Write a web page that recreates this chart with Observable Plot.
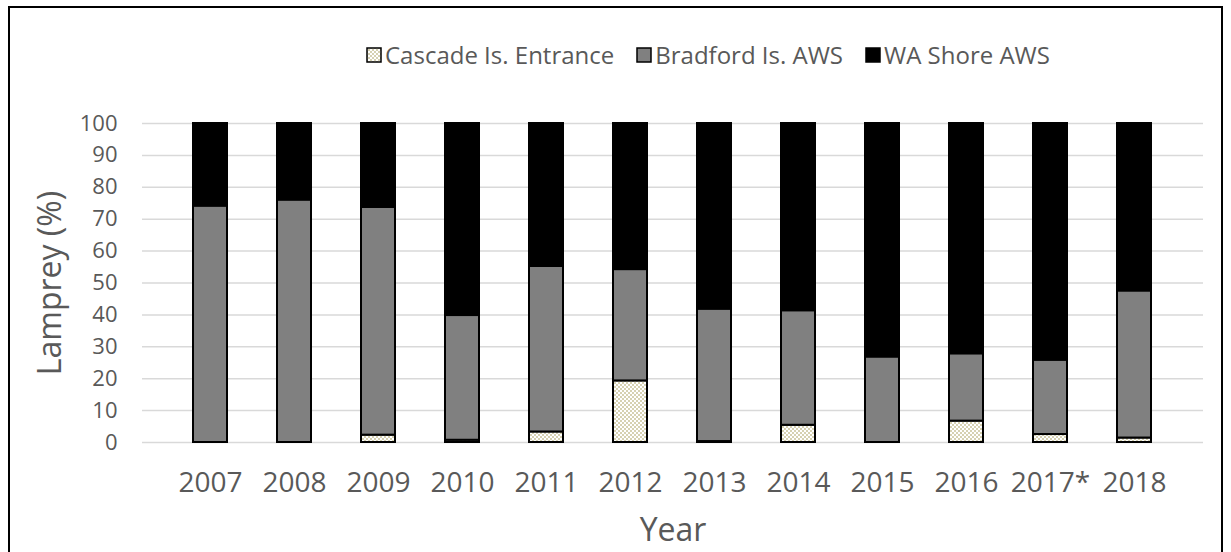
<!DOCTYPE html>
<html>
<head>
<meta charset="utf-8">
<script src="https://cdn.jsdelivr.net/npm/d3@7"></script>
<script src="https://cdn.jsdelivr.net/npm/@observablehq/plot@0.6"></script>
<style>
  html, body { margin: 0; padding: 0; background: #fff; }
  #wrap { position: relative; width: 1231px; height: 552px; overflow: hidden; font-family: "Open Sans", sans-serif; }
  #frame { position: absolute; left: 8px; top: 6px; width: 1215px; height: 600px; border: 2px solid #000; box-sizing: border-box; pointer-events: none; }
  #legend { position: relative; height: 100px; }
  #legend .items { position: absolute; left: 366px; top: 38px; display: flex; align-items: center; gap: 22px; font-size: 24px; color: #595959; white-space: nowrap; }
  #legend .item { display: flex; align-items: center; gap: 3px; }
  #legend svg { display: block; }
  #chart svg { display: block; }
</style>
</head>
<body>
<div id="wrap">
  <div id="legend"><div class="items"></div></div>
  <div id="chart"></div>
  <div id="frame"></div>
</div>
<script>
// Share of lamprey (%) by passage route, per year
const years = ["2007", "2008", "2009", "2010", "2011", "2012", "2013", "2014", "2015", "2016", "2017*", "2018"];
const seriesNames = ["Cascade Is. Entrance", "Bradford Is. AWS", "WA Shore AWS"];
const cascade  = [0, 0, 2.3, 0.7, 3.3, 19.3, 0.3, 5.4, 0, 6.7, 2.5, 1.4];
const bradford = [74.1, 76.0, 71.4, 39.1, 51.9, 34.9, 41.5, 35.9, 26.8, 21.1, 23.3, 46.1];
const waShore  = [25.9, 24.0, 26.3, 60.2, 44.8, 45.8, 58.2, 58.7, 73.2, 72.2, 74.2, 52.5];
const yTicks = [0, 10, 20, 30, 40, 50, 60, 70, 80, 90, 100];

const seriesValues = [cascade, bradford, waShore];
const rows = [];
seriesNames.forEach((name, s) => {
  years.forEach((year, i) => {
    if (seriesValues[s][i] > 0) rows.push({year, series: name, value: seriesValues[s][i]});
  });
});

const textColor = "#595959";
const fills = ["url(#cascadeDots)", "#808080", "#000000"];

const plot = Plot.plot({
  width: 1231,
  height: 452,
  marginTop: 23,
  marginBottom: 110,
  marginLeft: 142,
  marginRight: 28,
  style: {fontFamily: "'Open Sans', sans-serif", color: textColor, background: "#fff"},
  x: {domain: years, padding: 0.59, label: null},
  y: {domain: [0, 100], label: null},
  color: {domain: seriesNames, range: fills},
  marks: [
    Plot.gridY(yTicks, {stroke: "#d9d9d9", strokeOpacity: 1, strokeWidth: 1.5}),
    Plot.axisY(yTicks, {tickSize: 0, tickPadding: 25, fontSize: 22, label: null, fill: textColor}),
    Plot.axisX({tickSize: 0, tickPadding: 30, fontSize: 28, label: null, fill: textColor}),
    Plot.barY(rows, {
      x: "year", y: "value", fill: "series", z: "series",
      order: seriesNames,
      stroke: "#000", strokeWidth: 2
    }),
    Plot.text(["Lamprey (%)"], {frameAnchor: "left", dx: -92, rotate: -90, fontSize: 32, fill: textColor, textAnchor: "middle"}),
    Plot.text(["Year"], {frameAnchor: "bottom", dy: 88, fontSize: 32, fill: textColor, lineAnchor: "middle"})
  ]
});

// checker-dot fill used for the Cascade Is. Entrance segments
function addPattern(svg, id) {
  const ns = "http://www.w3.org/2000/svg";
  const defs = document.createElementNS(ns, "defs");
  defs.innerHTML = `<pattern id="${id}" width="4" height="4" patternUnits="userSpaceOnUse">
      <rect width="4" height="4" fill="#ffffff"/>
      <rect x="0" y="0" width="2" height="2" fill="#d6d1b2"/>
      <rect x="2" y="2" width="2" height="2" fill="#d6d1b2"/>
    </pattern>`;
  svg.insertBefore(defs, svg.firstChild);
}
addPattern(plot, "cascadeDots");
document.getElementById("chart").appendChild(plot);

// legend
const items = document.querySelector("#legend .items");
seriesNames.forEach((name, i) => {
  const item = document.createElement("div");
  item.className = "item";
  const sw = `<svg width="16" height="16" viewBox="0 0 16 16">
      <rect x="1" y="1" width="14" height="14" fill="${fills[i]}" stroke="#000" stroke-width="1.5"/>
    </svg>`;
  item.innerHTML = sw + `<span>${name}</span>`;
  items.appendChild(item);
});
</script>
</body>
</html>
